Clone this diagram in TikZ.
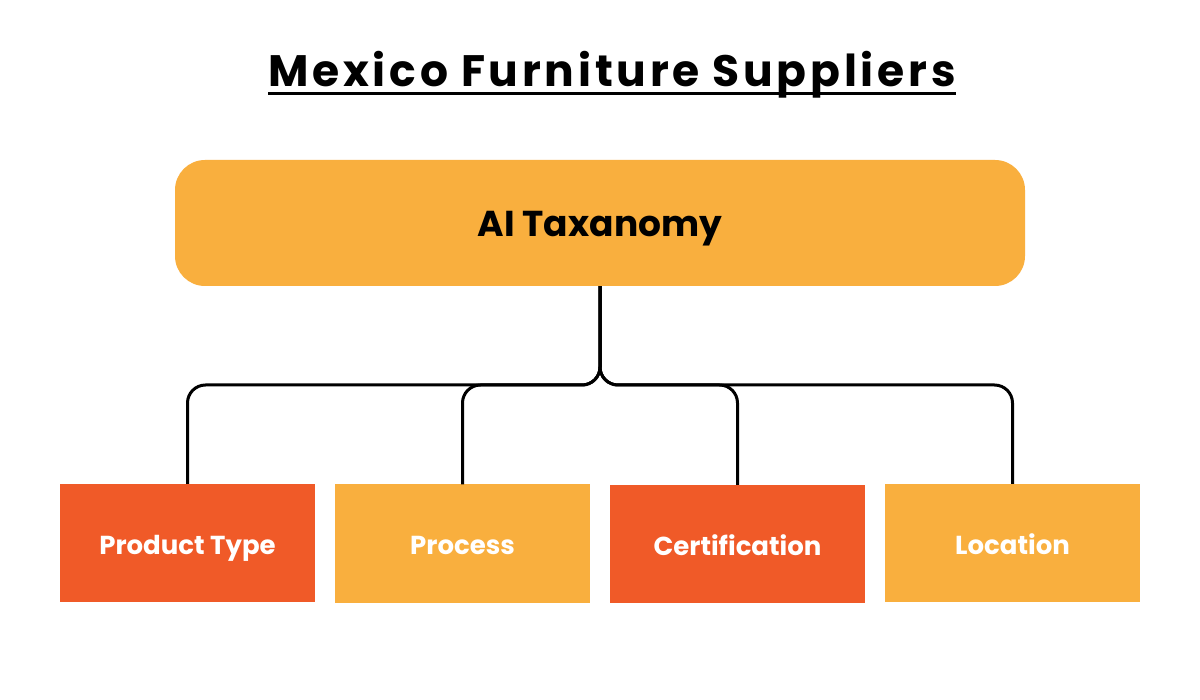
\documentclass[tikz,border=0pt]{standalone}
\usepackage{fontspec}
\setmainfont{Poppins}
\usetikzlibrary{calc}
\definecolor{gold}{HTML}{F9AF3E}
\definecolor{flame}{HTML}{F05A28}
\tikzset{
  leaf/.style={minimum width=255pt, minimum height=118pt, inner sep=0pt, text=white, text height=22pt, text depth=0pt, font=\fontsize{26}{30}\selectfont\bfseries},
  conn/.style={draw=black, line width=3pt, rounded corners=18pt},
}
\begin{document}
\begin{tikzpicture}[x=1pt,y=-1pt]
\useasboundingbox[fill=white] (0,0) rectangle (1200,700);
\node[anchor=base, inner sep=0pt, font=\fontsize{44}{50}\selectfont\bfseries] (title) at (612,87) {\addfontfeature{LetterSpace=8.5}Mexico Furniture Suppliers};
\draw[line width=3pt] ($(title.base west)+(0,7)$) coordinate (ul1) -- ($(title.base east)+(0,7)$) coordinate (ul2);
\node[fill=gold, rounded corners=30pt, minimum width=850pt, minimum height=126pt, inner sep=0pt, text height=28pt, text depth=0pt, font=\fontsize{36}{42}\selectfont\bfseries] (top) at (600,223) {AI Taxanomy};
\node[leaf, fill=flame] (c1) at (187.5,543) {Product Type};
\node[leaf, fill=gold] (c2) at (462.5,543.5) {Process};
\node[leaf, fill=flame] (c3) at (737.5,544) {Certification};
\node[leaf, fill=gold] (c4) at (1012.5,543) {Location};
\coordinate (bar) at (600,385);
\draw[conn] (top.south) -- (bar) -| (c1.north);
\draw[conn] (top.south) -- (bar) -| (c2.north);
\draw[conn] (top.south) -- (bar) -| (c3.north);
\draw[conn] (top.south) -- (bar) -| (c4.north);
\end{tikzpicture}
\end{document}
